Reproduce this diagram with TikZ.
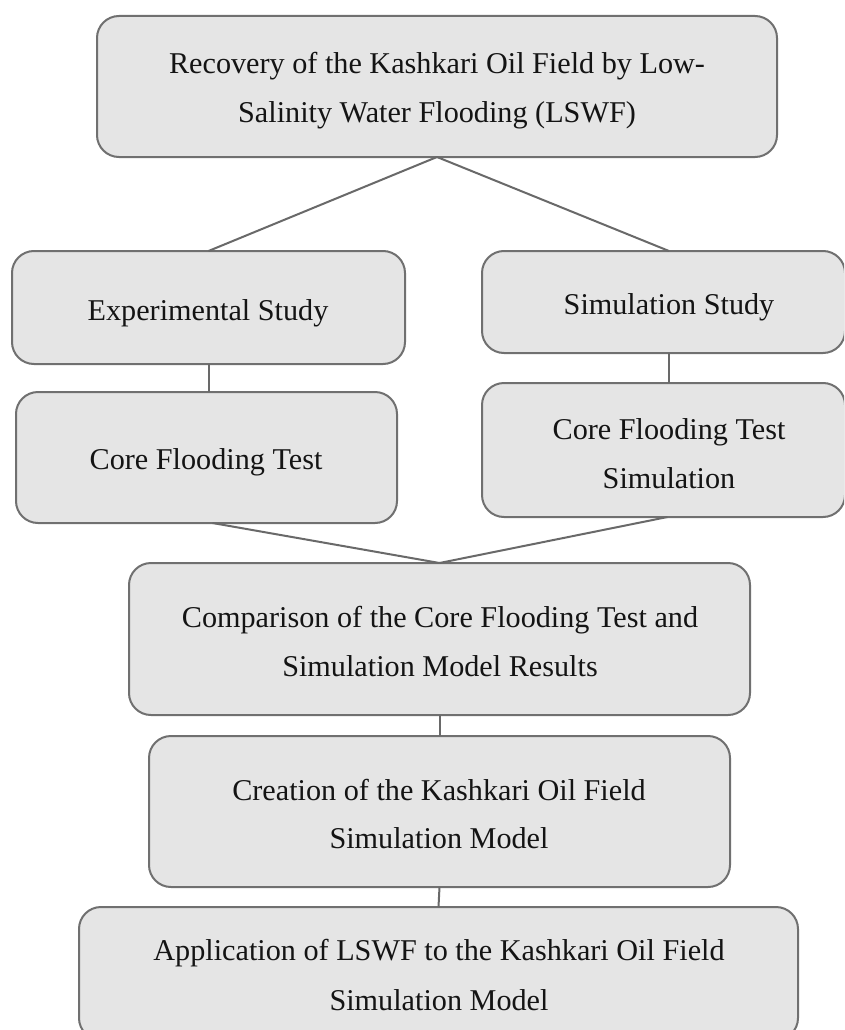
\documentclass[tikz,border=0pt]{standalone}
\usepackage{fontspec}
\setmainfont{Liberation Serif}
\definecolor{boxgray}{RGB}{229,229,229}
\definecolor{bordergray}{RGB}{112,112,112}
\definecolor{linegray}{RGB}{105,105,105}
\definecolor{txt}{RGB}{20,20,20}
\begin{document}
\begin{tikzpicture}[x=1pt,y=-1pt,
  box/.style={draw=bordergray, fill=boxgray, line width=2pt, rounded corners=22pt,
    rectangle, inner sep=0pt, outer sep=0pt},
  lbl/.style={font=\fontsize{30.2}{36}\selectfont, text=txt, anchor=base, inner sep=0pt},
  conn/.style={draw=linegray, line width=2pt}]
\useasboundingbox (0,0) rectangle (844,1030);
\clip (0,0) rectangle (844,1030);
\fill[white] (0,0) rectangle (844,1030);

% boxes
\node[box, minimum width=680pt, minimum height=141pt] (b1) at (437,86.5) {};
\node[box, minimum width=393pt, minimum height=113pt] (b2) at (208.5,307.5) {};
\node[box, minimum width=363pt, minimum height=102pt] (b3) at (663.5,302) {};
\node[box, minimum width=381pt, minimum height=131pt] (b4) at (206.5,457.5) {};
\node[box, minimum width=363pt, minimum height=134pt] (b5) at (663.5,450) {};
\node[box, minimum width=621pt, minimum height=152pt] (b6) at (439.5,639) {};
\node[box, minimum width=581pt, minimum height=151pt] (b7) at (439.5,811.5) {};
\node[box, minimum width=719pt, minimum height=133pt] (b8) at (438.5,973.5) {};

% connectors
\draw[conn] (b1.south) -- (b2.north);
\draw[conn] (b1.south) -- ([xshift=5.5pt]b3.north);
\draw[conn] (b2.south) -- (b2.south |- b4.north);
\draw[conn] ([xshift=5.5pt]b3.south) -- ([xshift=5.5pt]b5.north);
\draw[conn] ([xshift=6pt]b4.south) -- (b6.north);
\draw[conn] ([xshift=4pt]b5.south) -- (b6.north);
\draw[conn] (b6.south) -- (b7.north);
\draw[conn] (b7.south) -- (b8.north);

% texts
\node[lbl] (t1a) at (437,74) {Recovery of the Kashkari Oil Field by Low-};
\node[lbl] (t1b) at (437,123) {Salinity Water Flooding (LSWF)};
\node[lbl] (t2) at (208,320) {Experimental Study};
\node[lbl] (t3) at (669,314) {Simulation Study};
\node[lbl] (t4) at (206,469) {Core Flooding Test};
\node[lbl] (t5a) at (669,439) {Core Flooding Test};
\node[lbl] (t5b) at (669,488) {Simulation};
\node[lbl] (t6a) at (440,627) {Comparison of the Core Flooding Test and};
\node[lbl] (t6b) at (440,676) {Simulation Model Results};
\node[lbl] (t7a) at (439,800) {Creation of the Kashkari Oil Field};
\node[lbl] (t7b) at (439,848) {Simulation Model};
\node[lbl] (t8a) at (439,960) {Application of LSWF to the Kashkari Oil Field};
\node[lbl] (t8b) at (439,1010) {Simulation Model};
\end{tikzpicture}
\end{document}
